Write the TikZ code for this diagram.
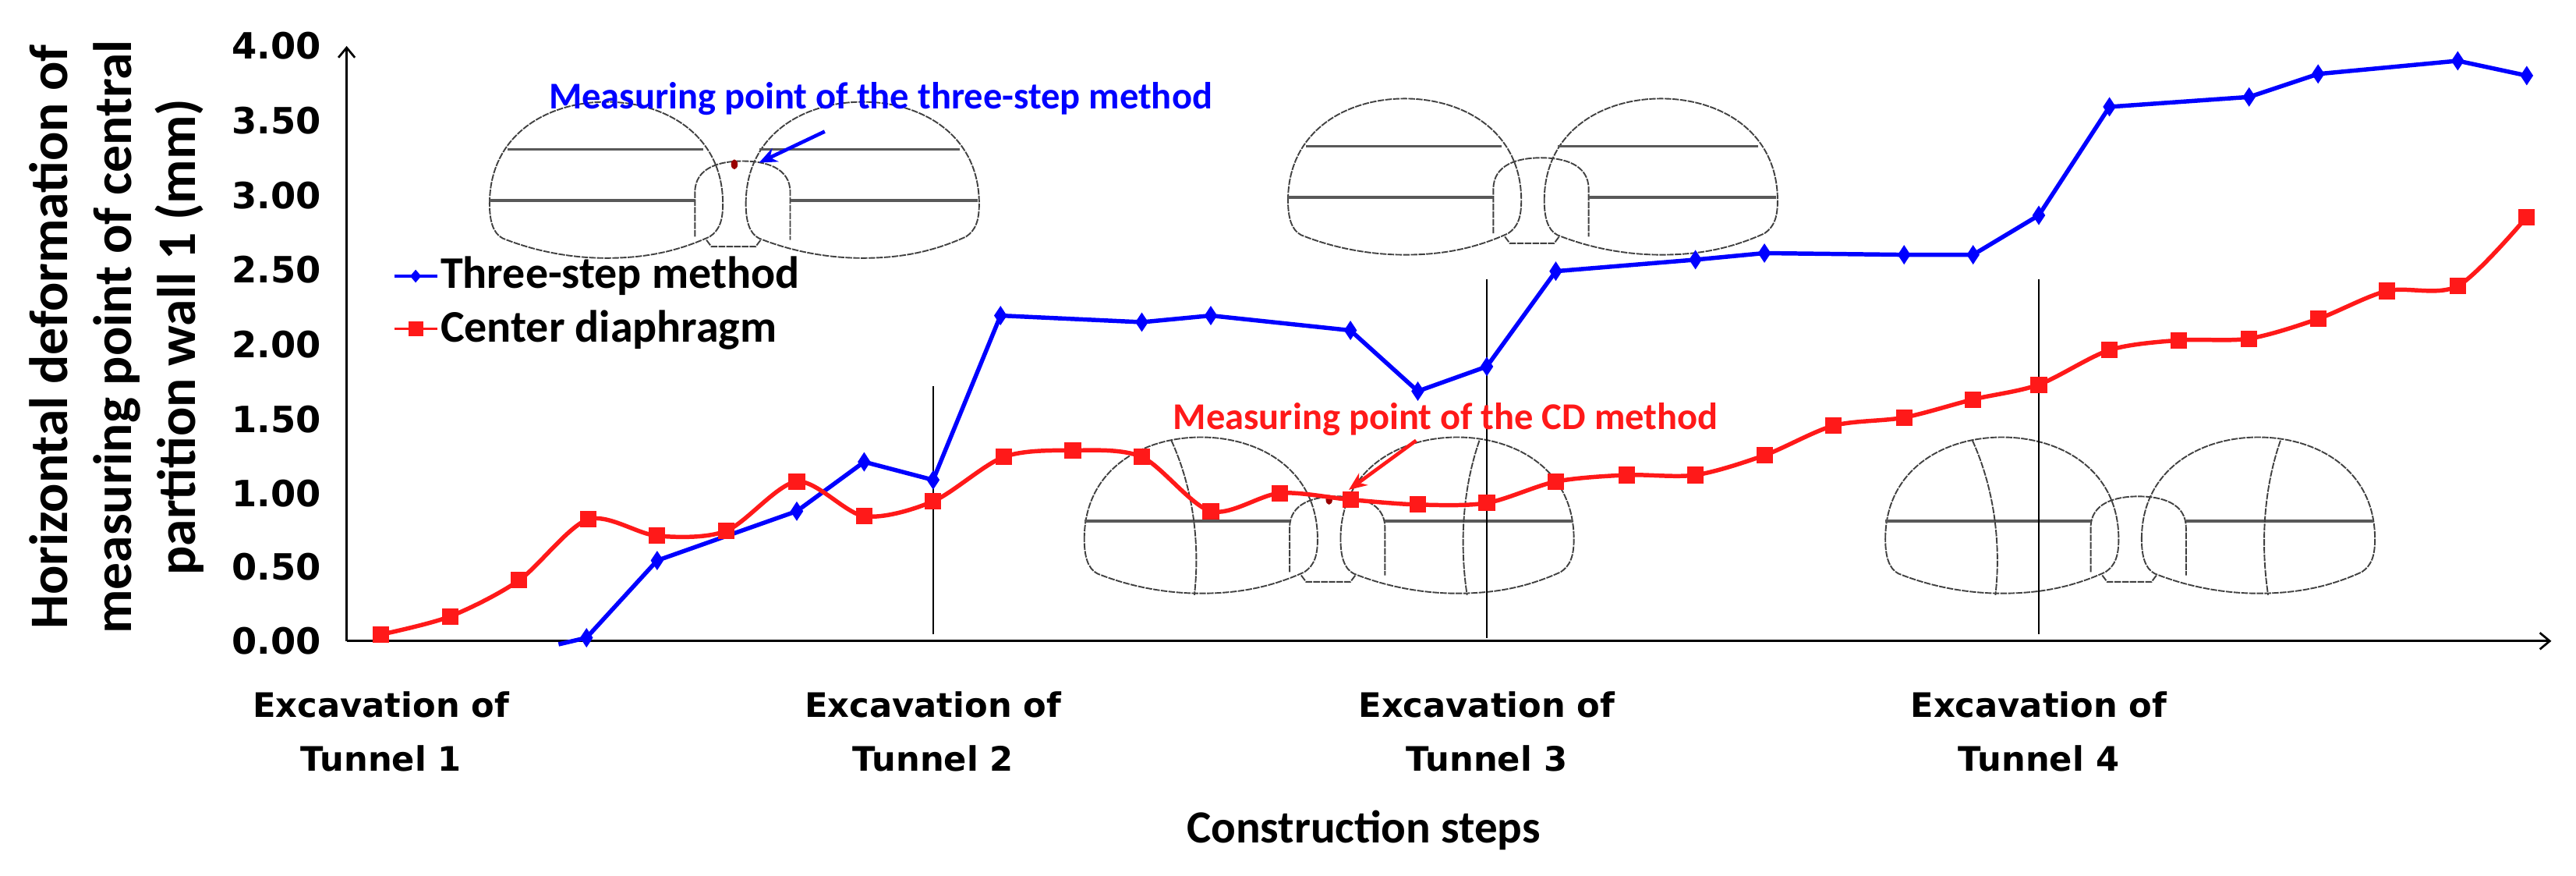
\documentclass[tikz,border=0pt]{standalone}
\usepackage{fontspec}
\setmainfont{Carlito}
\newfontfamily\tickf{DejaVu Sans}
\usetikzlibrary{arrows.meta,shapes.geometric}
\definecolor{bl}{RGB}{0,0,255}
\definecolor{rd}{RGB}{255,25,25}
\tikzset{
 outl/.style={draw=black!75,line width=0.9pt,dash pattern=on 4pt off 0.7pt},
 hl/.style={draw=black!65,line width=1.6pt},
 lobe/.pic={\draw[outl] (0,62) .. controls (0,20) and (35,0) .. (71,0) .. controls (107,0) and (142,20) .. (142,62) .. controls (142,72) and (140,78) .. (134,82) .. controls (112,92) and (92,95) .. (71,95) .. controls (50,95) and (28,91) .. (8,83) .. controls (2,80) and (0,72) .. (0,62);},
 mid/.pic={\draw[outl] (125,82) -- (125,55) .. controls (125,40) and (140,36) .. (154,36) .. controls (168,36) and (183,40) .. (183,55) -- (183,84);
   \draw[outl] (132,84)--(135,88)--(162,88)--(165,84);},
 three/.pic={\pic at (0,0) {lobe}; \pic at (156,0) {lobe}; \pic at (0,0) {mid};
   \draw[hl] (11,29)--(130,29) (0,60)--(125,60) (164,29)--(286,29) (183,60)--(297,60);},
 cd/.pic={\pic at (0,0) {lobe}; \pic at (156,0) {lobe}; \pic at (0,0) {mid};
   \draw[hl] (0,51)--(125,51) (183,51)--(297,51);
   \draw[outl] (53,2) .. controls (68,35) and (70,70) .. (67,96);
   \draw[outl] (240.5,2) .. controls (229,35) and (229,70) .. (233,96);},
 dot/.style={ellipse,fill=red!60!black,inner sep=0pt,minimum width=4pt,minimum height=6pt},
 dia/.style={diamond,fill=bl,inner sep=0pt,minimum width=8pt,minimum height=12pt},
 sq/.style={rectangle,fill=rd,inner sep=0pt,minimum size=10pt},
 tick/.style={font=\tickf\bfseries\fontsize{22}{24}\selectfont,anchor=east},
 xl/.style={font=\tickf\bfseries\fontsize{20.5}{33}\selectfont,align=center},
 bline/.style={bl,line width=2.6pt},
 rline/.style={rd,line width=2.6pt},
 legt/.style={anchor=west,font=\bfseries\fontsize{27.5}{29}\selectfont,inner sep=0pt},
}
\begin{document}
\begin{tikzpicture}[x=1pt,y=-1pt]
\useasboundingbox (0,0) rectangle (1568,532.5);
% tunnels
\pic at (298,62) {three};
\pic at (784,60) {three};
\pic at (660,266) {cd};
\pic at (1147.6,266) {cd};
\node[dot] (d1) at (447,100) {};
\node[dot] (d3) at (809,304) {};
% section lines
\coordinate (v1t) at (568,235); \coordinate (v1b) at (568,386);
\coordinate (v2t) at (905,170); \coordinate (v2b) at (905,388);
\coordinate (v3t) at (1241,170); \coordinate (v3b) at (1241,386);
\draw[line width=1.3pt] (v1t)--(v1b) (v2t)--(v2b) (v3t)--(v3b);
% axes
\coordinate (o) at (211,390); \coordinate (ytop) at (211,28); \coordinate (xend) at (1553,390);
\draw[line width=1.3pt,-{Straight Barb[length=6pt,width=10pt]}] (o)--(ytop);
\draw[line width=1.3pt,-{Straight Barb[length=6pt,width=10pt]}] (o)--(xend);
\foreach \v/\y in {4.00/28,3.50/73.5,3.00/119,2.50/164,2.00/209.5,1.50/255,1.00/300,0.50/345,0.00/390}
  \node[tick] at (199,\y) {\v};
% y title
\node[rotate=90,font=\bfseries\fontsize{33}{39}\selectfont,align=center] (yt) at (71,205) {Horizontal deformation of\\measuring point of central\\partition wall 1 (mm)};
% x labels
\node[xl] (x1) at (232,445) {Excavation of\\Tunnel 1};
\node[xl] (x2) at (568,445) {Excavation of\\Tunnel 2};
\node[xl] (x3) at (905,445) {Excavation of\\Tunnel 3};
\node[xl] (x4) at (1241,445) {Excavation of\\Tunnel 4};
\node[font=\bfseries\fontsize{28}{30}\selectfont] (xt) at (830,505) {Construction steps};
% blue series
\draw[bline,line join=round] (340,392) -- (357,388) -- (400,341) -- (485,311) -- (526,281) -- (568,292) -- (609,192) -- (695,196) -- (737,192) -- (822,201) -- (863,238) -- (905,223) -- (947,165) -- (1032,158) -- (1074,154) -- (1159,155) -- (1201,155) -- (1241,131) -- (1284,65) -- (1369,59) -- (1411,45) -- (1496,37) -- (1538,46);
\foreach \p in {(357,388),(400,341),(485,311),(526,281),(568,292),(609,192),(695,196),(737,192),(822,201),(863,238),(905,223),(947,165),(1032,158),(1074,154),(1159,155),(1201,155),(1241,131),(1284,65),(1369,59),(1411,45),(1496,37),(1538,46)}
  \node[dia] at \p {};
% red series
\draw[rline,line join=round] plot[smooth,tension=0.5] coordinates {(232,386) (274,375) (316,353) (358,316) (400,326) (442,323) (485,293) (526,314) (568,305) (611,278) (653,274) (695,278) (737,311) (779,300) (822,304) (863,307) (905,306) (947,293) (990,289) (1032,289) (1074,277) (1116,259) (1159,254) (1201,243) (1241,234) (1284,213) (1326,207) (1369,206) (1411,194) (1453,177) (1496,174) (1538,132)};
\foreach \p in {(232,386),(274,375),(316,353),(358,316),(400,326),(442,323),(485,293),(526,314),(568,305),(611,278),(653,274),(695,278),(737,311),(779,300),(822,304),(863,307),(905,306),(947,293),(990,289),(1032,289),(1074,277),(1116,259),(1159,254),(1201,243),(1241,234),(1284,213),(1326,207),(1369,206),(1411,194),(1453,177),(1496,174),(1538,132)}
  \node[sq] at \p {};
% legend
\coordinate (lb1) at (240,168); \coordinate (lb2) at (266,168);
\coordinate (lr1) at (240,200); \coordinate (lr2) at (266,200);
\draw[bl,line width=1.5pt] (lb1)--(lb2); \node[dia,minimum width=7pt,minimum height=8pt] at (253,168) {};
\draw[rd,line width=1.5pt] (lr1)--(lr2); \node[sq,minimum size=9pt] at (253,200) {};
\node[legt] (l1) at (268,168) {Three-step method};
\node[legt] (l2) at (268,201) {Center diaphragm};
% annotations
\node[anchor=west,text=bl,font=\bfseries\fontsize{23}{24}\selectfont,inner sep=0pt] (a1) at (334,60) {Measuring point of the three-step method};
\node[anchor=west,text=rd,font=\bfseries\fontsize{23}{24}\selectfont,inner sep=0pt] (a2) at (714,255) {Measuring point of the CD method};
\coordinate (a1s) at (502,80); \coordinate (a1e) at (462,99);
\coordinate (a2s) at (862,268); \coordinate (a2e) at (821,298);
\draw[bl,line width=2.2pt,-{Stealth[length=11pt,width=9pt]}] (a1s)--(a1e);
\draw[rd,line width=2.2pt,-{Stealth[length=11pt,width=9pt]}] (a2s)--(a2e);
\end{tikzpicture}
\end{document}
